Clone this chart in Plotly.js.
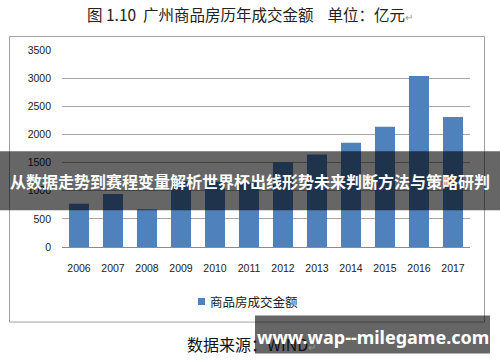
<!DOCTYPE html>
<html>
<head>
<meta charset="utf-8">
<script src="https://cdn.plot.ly/plotly-3.0.1.min.js"></script>
<style>html,body{margin:0;padding:0;background:#fff;}#chart{width:500px;height:362px;}</style>
</head>
<body>
<div id="chart"></div>
<script>
// ---- data ----
var years = ['2006','2007','2008','2009','2010','2011','2012','2013','2014','2015','2016','2017'];
var amounts = [770, 940, 670, 1170, 1160, 1150, 1510, 1645, 1850, 2135, 3040, 2310];
var yTicks = [0, 500, 1000, 1500, 2000, 2500, 3000, 3500];
var seriesName = '商品房成交金额';
var titleText = '图 1.10&#160; 广州商品房历年成交金额 &#160; &#160;单位：亿元<span style="color:#999;font-size:10px">↵</span>';
var sourceText = '数据来源：WIND<span style="color:#999;font-size:10px">↵</span>';
var bannerText = '从数据走势到赛程变量解析世界杯出线形势未来判断方法与策略研判';
var watermarkText = 'www.wap--milegame.com';
var barColor = '#4F81BD';

// ---- layout geometry (pixels) ----
var L = 62, T = 50, W = 408, H = 196.6;
function X(px) { return (px - L) / W; }
function Y(py) { return (T + H - py) / H; }

var cjk = '"Noto Sans CJK SC", "Noto Sans", sans-serif';
var num = '"Liberation Sans", Arial, sans-serif';

var trace = {
  type: 'bar',
  x: years,
  y: amounts,
  name: seriesName,
  marker: { color: barColor },
  hoverinfo: 'x+y'
};

var layout = {
  width: 500,
  height: 362,
  margin: { l: L, r: 500 - L - W, t: T, b: 362 - T - H },
  paper_bgcolor: '#ffffff',
  plot_bgcolor: '#ffffff',
  bargap: 0.41,
  showlegend: false,
  xaxis: {
    type: 'category',
    showgrid: false,
    showline: false,
    zeroline: false,
    ticks: '',
    ticklabelstandoff: 13,
    tickfont: { family: num, size: 10.5, color: '#222' }
  },
  yaxis: {
    range: [0, 3500],
    tickvals: yTicks,
    ticktext: yTicks.map(String),
    showgrid: true,
    gridcolor: '#a6a6a6',
    gridwidth: 1,
    zeroline: true,
    zerolinecolor: '#8c8c8c',
    zerolinewidth: 1,
    showline: false,
    ticks: '',
    ticklabelstandoff: 10,
    tickfont: { family: num, size: 10.5, color: '#222' },
    fixedrange: true
  },
  shapes: [
    // chart frame
    { type: 'rect', xref: 'paper', yref: 'paper', x0: X(9.5), x1: X(484.5), y0: Y(321.5), y1: Y(36.5),
      line: { color: '#a0a0a0', width: 1 }, fillcolor: 'rgba(0,0,0,0)', layer: 'below' },
    // legend swatch
    { type: 'rect', xref: 'paper', yref: 'paper', x0: X(198), x1: X(205), y0: Y(304.5), y1: Y(297.5),
      line: { width: 0 }, fillcolor: barColor, layer: 'above' },
    // dark banner band
    { type: 'rect', xref: 'paper', yref: 'paper', x0: X(0), x1: X(500), y0: Y(210), y1: Y(151),
      line: { width: 0 }, fillcolor: 'rgba(0,0,0,0.6)', layer: 'above' },
    // watermark box
    { type: 'rect', xref: 'paper', yref: 'paper', x0: X(255), x1: X(490), y0: Y(353), y1: Y(315),
      line: { width: 0 }, fillcolor: 'rgba(0,0,0,0.6)', layer: 'above' }
  ],
  annotations: [
    { xref: 'paper', yref: 'paper', x: X(250), y: Y(14), xanchor: 'center', yanchor: 'middle',
      text: titleText, showarrow: false, font: { family: cjk, size: 15.5, color: '#222' } },
    { xref: 'paper', yref: 'paper', x: X(208), y: Y(301), xanchor: 'left', yanchor: 'middle',
      text: seriesName, showarrow: false, font: { family: cjk, size: 12.5, color: '#222' } },
    { xref: 'paper', yref: 'paper', x: X(185), y: Y(343), xanchor: 'left', yanchor: 'middle',
      text: sourceText, showarrow: false, font: { family: cjk, size: 16, color: '#111' } },
    { xref: 'paper', yref: 'paper', x: X(250), y: Y(181), xanchor: 'center', yanchor: 'middle',
      text: '<b>' + bannerText + '</b>', showarrow: false, font: { family: cjk, size: 16, color: '#ffffff' } },
    { xref: 'paper', yref: 'paper', x: X(373), y: Y(336), xanchor: 'center', yanchor: 'middle',
      text: '<b>' + watermarkText + '</b>', showarrow: false, font: { family: '"Noto Sans", "DejaVu Sans", sans-serif', size: 18, color: '#ffffff' } }
  ]
};

Plotly.newPlot('chart', [trace], layout, { displayModeBar: false, staticPlot: true });
</script>
</body>
</html>
